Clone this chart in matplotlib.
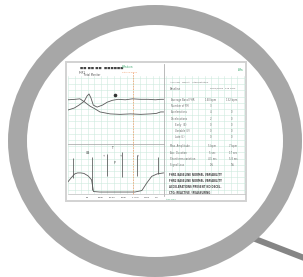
import numpy as np
import matplotlib
matplotlib.use("Agg")
import matplotlib.pyplot as plt
from matplotlib.patches import Ellipse, Rectangle

# ---------------- data ----------------
# top panel: fetal heart rate traces (time in minutes, bpm)
fhr_time_a = [0, 1.5, 2.5, 3.4, 4.6, 5.7, 6.7, 8.8, 10.9, 13.1, 15.2, 17.3, 18.5, 19.4, 20]
fhr_a = [151, 152, 153, 147, 138, 132, 126, 122, 121, 122, 121, 122, 123, 126, 126]
fhr_time_b = [0, 1.3, 2.3, 3.4, 4.0, 4.4, 4.8, 5.3, 6.1, 7.2, 8.2, 9.3, 10.5, 12.0, 13.5, 15.2, 16.8, 18.3, 19.4, 20]
fhr_b = [130, 134, 140, 148, 159, 163, 155, 140, 136, 140, 146, 150, 152, 151, 153, 152, 152, 151, 152, 152]
event_time = [9.9]
event_val = [161]

# lower panel: uterine activity trace
toco_time = [0, 1.0, 2.1, 3.0, 4.0, 5.0, 6.3, 7.4, 8.0, 10, 13, 16, 19, 21, 23.2, 24.8, 26.3, 28.0, 30]
toco = [24, 32, 40, 42, 42, 41, 36, 28, 4, 3, 3, 3, 3, 3, 6, 22, 35, 40, 42]
spike_time = [1.6, 7.6, 12.3, 17.0, 21.7, 28.3]
spike_low = [32, 8, 35, 33, 35, 40]
spike_high = [72, 75, 80, 85, 78, 75]

# report table
row_labels = ["Average Basal FHR", "Number of FM", "Accelerations", "Decelerations",
              "Early  (E)", "Variable (V)", "Late (L)"]
col1_vals = ["140 bpm", "3", "4", "2", "0", "0", "0"]
col2_vals = ["132 bpm", "", "0", "0", "0", "0", "0"]
row2_labels = ["Max. Amplitude", "Acc. Duration", "Short term variation", "Signal Loss"]
row2_c1 = ["5 bpm", "5 sec", "4.5 ms", "2%"]
row2_c2 = ["7 bpm", "17 sec", "5.8 ms", "0%"]
note_lines = ["FHR1 BASELINE NORMAL VARIABILITY",
              "FHR2 BASELINE NORMAL VARIABILITY",
              "ACCELERATIONS PRESENT NO DECEL.",
              "CTG: REACTIVE / REASSURING"]
x_labels = ["00", "0min", "10:00", "5min", "1 min", "FHR2", "Fm"]

# ---------------- figure ----------------
W, H = 303, 277
fig = plt.figure(figsize=(W / 100, H / 100), dpi=100)
ax0 = fig.add_axes([0, 0, 1, 1])
ax0.set_xlim(0, W)
ax0.set_ylim(H, 0)
ax0.axis("off")

ring = "#a7a7a7"
# handle
ax0.plot([250, 312], [237, 261], color="#858585", lw=4.3, solid_capstyle="butt", zorder=1)
# ring
ax0.add_patch(Ellipse((155, 141), 294, 272, facecolor=ring, edgecolor="none", zorder=2))
ax0.add_patch(Ellipse((155, 141), 256, 232, facecolor="white", edgecolor="none", zorder=3))

# document
ax0.add_patch(Rectangle((66, 62), 180, 139, facecolor="white", edgecolor="#d2d2d2", lw=1.4, zorder=4))
gcol = "#cdeade"
for gx in np.arange(68, 245, 6.5):
    ax0.plot([gx, gx], [76, 193], color=gcol, lw=0.4, zorder=5)
for gy in np.arange(78, 194, 6.2):
    ax0.plot([68, 245], [gy, gy], color=gcol, lw=0.4, zorder=5)
ax0.plot([163.5, 163.5], [64, 196], color="#a8a8a8", lw=0.55, zorder=6)
ax0.plot([68, 163.5], [144, 144], color="#a8a8a8", lw=0.55, zorder=6)
ax0.plot([68, 245], [194, 194], color="#bcbcbc", lw=0.5, zorder=6)
ax0.plot([133, 133], [72, 194], color="#f2a06b", lw=0.55, ls=(0, (2, 1.5)), zorder=6)

# header
ax0.text(80, 67.5, "■■ ■■ ■■  ■■■■■■", fontsize=2.4, color="#444", zorder=7, va="center")
ax0.text(79, 72.5, "FHR1", fontsize=2.0, color="#444", zorder=7, va="center")
ax0.text(84, 75.5, "Fetal Monitor", fontsize=1.8, color="#555", zorder=7, va="center")
ax0.text(122, 67.5, "Bistos", fontsize=2.8, color="#4caf7a", zorder=7, va="center", style="italic")
ax0.text(122, 72.6, "date 00:00:00", fontsize=1.5, color="#f09a66", zorder=7, va="center")
ax0.text(238, 70, "Bis", fontsize=2.8, color="#4caf7a", zorder=7, va="center", style="italic")

# top trace panel
ax1 = fig.add_axes([68 / W, 1 - 144 / H, 95.5 / W, 68 / H])
ax1.set_xlim(0, 20)
ax1.set_ylim(60, 200)
ax1.plot(fhr_time_a, fhr_a, color="#5a5a5a", lw=0.6)
ax1.plot(fhr_time_b, fhr_b, color="#5a5a5a", lw=0.6)
ax1.plot(event_time, event_val, "o", color="#333", ms=1.6)
ax1.axis("off")
ax1.patch.set_alpha(0)

# lower trace panel
ax2 = fig.add_axes([68 / W, 1 - 193.5 / H, 95.5 / W, 49 / H])
ax2.set_xlim(0, 30)
ax2.set_ylim(0, 100)
ax2.plot(toco_time, toco, color="#5a5a5a", lw=0.6)
ax2.vlines(spike_time, spike_low, spike_high, color="#555", lw=0.55)
ax2.axis("off")
ax2.patch.set_alpha(0)
ax0.text(112, 148, "T", fontsize=2.2, color="#444", zorder=7, ha="center", va="center")
ax0.text(86, 153, "UA", fontsize=2.2, color="#444", zorder=7, va="center")
ax0.text(114, 163, "P", fontsize=2.2, color="#444", zorder=7, va="center")
for xx in [104, 121, 138]:
    ax0.text(xx, 156, "+", fontsize=1.8, color="#555", zorder=7, ha="center", va="center")

# x labels
for i, lab in enumerate(x_labels):
    ax0.text(86 + i * 11.5, 197.5, lab, fontsize=1.7, color="#444", zorder=7, va="center")
ax0.text(166, 199.3, "time scale", fontsize=1.4, color="#4caf7a", zorder=7, va="center")

# right table
tc = "#6a6a6a"
ax0.text(170, 82, "Analysis   Result   Interpretation", fontsize=1.7, color=tc, zorder=7, va="center")
ax0.text(170, 88.5, "Baseline", fontsize=1.9, color=tc, zorder=7, va="center")
ax0.text(210, 88.5, "FHR1/FHR2  145 bpm", fontsize=1.7, color=tc, zorder=7, va="center")
for i, lab in enumerate(row_labels):
    y = 100 + i * 6.2
    ax0.text(171 + (4 if i >= 4 else 0), y, lab, fontsize=1.8, color=tc, zorder=7, va="center")
    ax0.text(211, y, col1_vals[i], fontsize=1.8, color=tc, zorder=7, va="center", ha="center")
    ax0.text(232, y, col2_vals[i], fontsize=1.8, color=tc, zorder=7, va="center", ha="center")
for i, lab in enumerate(row2_labels):
    y = 146.5 + i * 6.2
    ax0.text(170, y, lab, fontsize=1.8, color=tc, zorder=7, va="center")
    ax0.text(212, y, row2_c1[i], fontsize=1.8, color=tc, zorder=7, va="center", ha="center")
    ax0.text(233, y, row2_c2[i], fontsize=1.8, color=tc, zorder=7, va="center", ha="center")
for i, lab in enumerate(note_lines):
    ax0.text(169, 174.5 + i * 6.2, lab, fontsize=1.8, color="#444", zorder=7, va="center",
             fontweight="bold")

fig.savefig("out.png", dpi=100)
